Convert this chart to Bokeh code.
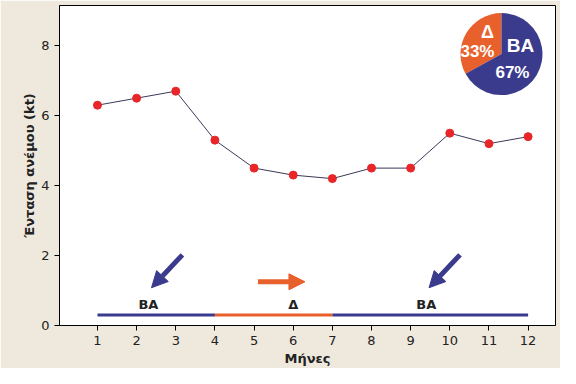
import math
from bokeh.plotting import figure
from bokeh.models import Range1d, Arrow, NormalHead, FixedTicker
from bokeh.embed import file_html
from bokeh.resources import INLINE
from bokeh.core.properties import value

# ---- data ----
months = [1, 2, 3, 4, 5, 6, 7, 8, 9, 10, 11, 12]
wind = [6.3, 6.5, 6.7, 5.3, 4.5, 4.3, 4.2, 4.5, 4.5, 5.5, 5.2, 5.4]
season_names = ["ΒΑ", "Δ", "ΒΑ"]
season_start = [1, 4, 7]
season_end = [4, 7, 12]
season_label_x = [2.3, 6.0, 9.4]
season_level = 0.3
pie_names = ["Δ", "ΒΑ"]
pie_pct = [33, 67]
arrow_x0 = [3.17, 5.1, 10.26]
arrow_y0 = [2.02, 1.25, 2.02]
arrow_x1 = [2.38, 6.3, 9.47]
arrow_y1 = [1.08, 1.25, 1.08]
arrow_season = [0, 1, 2]

BLUE = "#3b3b8e"
ORANGE = "#e8602c"
RED = "#e8262a"
FONT = "DejaVu Sans"

p = figure(width=560, height=368, output_backend="svg", toolbar_location=None,
           x_range=Range1d(0.03, 12.7), y_range=Range1d(0, 9.15),
           min_border_left=59, min_border_right=5, min_border_top=5, min_border_bottom=41)
p.background_fill_color = "white"
p.border_fill_color = "#efe9dd"
p.outline_line_color = "black"
p.outline_line_width = 1
p.grid.visible = False

for ax in (p.xaxis[0], p.yaxis[0]):
    ax.major_label_text_font = FONT
    ax.major_label_text_font_size = "13px"
    ax.major_label_text_color = "#222222"
    ax.axis_label_text_font = FONT
    ax.axis_label_text_font_size = "13px"
    ax.axis_label_text_font_style = "bold"
    ax.axis_label_text_color = "#222222"
    ax.minor_tick_line_color = None
    ax.major_tick_out = 5
    ax.major_tick_in = 0
    ax.axis_line_color = "black"
    ax.major_tick_line_color = "black"

p.xaxis.ticker = FixedTicker(ticks=months)
p.yaxis.ticker = FixedTicker(ticks=[0, 2, 4, 6, 8])
p.xaxis.axis_label = "Μήνες"
p.yaxis.axis_label = "Ένταση ανέμου (kt)"
p.xaxis.axis_label_standoff = 3
p.yaxis.axis_label_standoff = 1

# seasonal bars
cols = [BLUE if n == "ΒΑ" else ORANGE for n in season_names]
p.segment(x0=season_start, y0=[season_level] * 3, x1=season_end, y1=[season_level] * 3,
          line_color=cols, line_width=3)
p.text(x=season_label_x, y=[season_level] * 3, text=season_names, y_offset=-11,
       text_font=value(FONT), text_font_style="bold", text_font_size="13px",
       text_color="#222222", text_align="center", text_baseline="middle")

# arrows
for i in range(3):
    c = cols[arrow_season[i]]
    p.add_layout(Arrow(x_start=arrow_x0[i], y_start=arrow_y0[i], x_end=arrow_x1[i], y_end=arrow_y1[i],
                       line_color=c, line_width=5,
                       end=NormalHead(size=16, fill_color=c, line_color=c)))

# data line
p.line(months, wind, line_color="#3a3a5a", line_width=1)
p.scatter(months, wind, size=8, fill_color=RED, line_color=RED)

# pie
cx, cy = 11.32, 7.76
angles = []
a = math.pi / 2
for v in pie_pct:
    b = a + v / 100 * 2 * math.pi
    angles.append((a, b))
    a = b
p.wedge(x=[cx, cx], y=[cy, cy], radius=41, radius_units="screen",
        start_angle=[s for s, e in angles], end_angle=[e for s, e in angles],
        fill_color=[ORANGE, BLUE], line_color=None)
p.text(x=[cx] * 4, y=[cy] * 4,
       text=[pie_names[0], f"{pie_pct[0]}%", pie_names[1], f"{pie_pct[1]}%"],
       x_offset=[-14, -24, 19, 11], y_offset=[-22, -3, -9, 18],
       text_font=value("Liberation Sans"), text_font_style="bold",
       text_font_size=["18px", "17px", "19px", "17px"],
       text_color="white", text_align="center", text_baseline="middle")

open("out.html", "w").write(file_html(p, INLINE))
